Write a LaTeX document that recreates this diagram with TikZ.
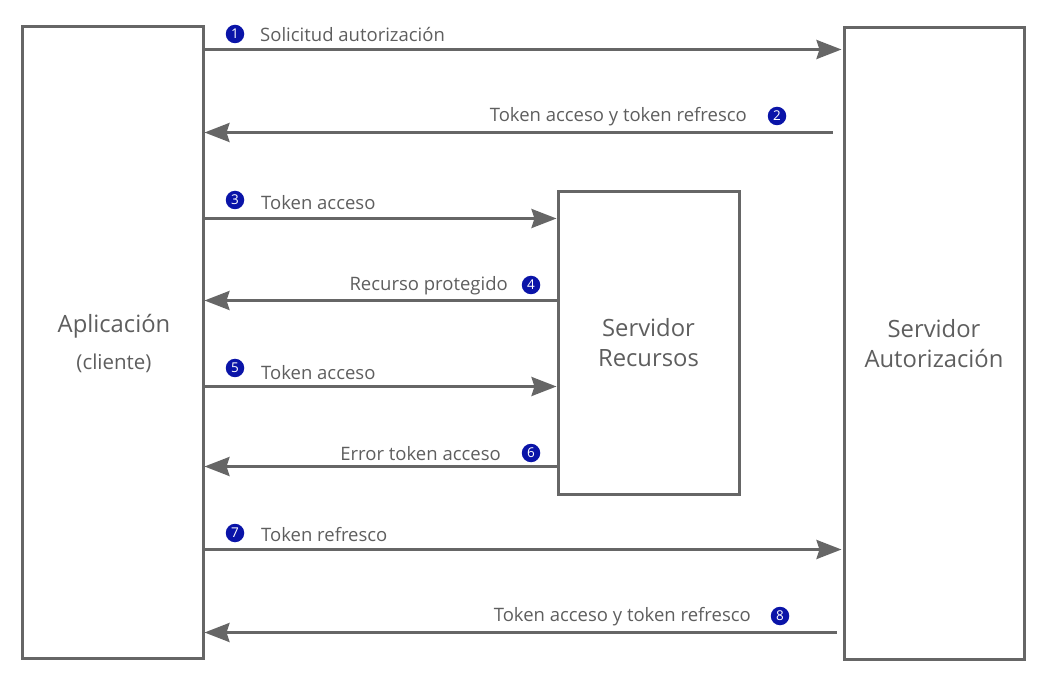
\documentclass[tikz,border=0pt]{standalone}
\usepackage{fontspec}
\setmainfont{Open Sans}
\usetikzlibrary{arrows.meta}
\definecolor{ln}{HTML}{666666}
\definecolor{tx}{HTML}{5E5E5E}
\definecolor{bl}{HTML}{0A14A8}
\tikzset{
  box/.style={draw=ln, line width=3pt, inner sep=0pt, text=tx, align=center, font=\fontsize{23.8}{30}\selectfont},
  arr/.style={draw=ln, line width=3pt, -{Stealth[length=25pt, width=19pt, inset=3pt]}},
  lbl/.style={text=tx, font=\fontsize{18.5}{22}\selectfont, inner sep=0pt, yshift=-2pt},
  num/.style={circle, fill=bl, text=white, minimum size=18.5pt, inner sep=0pt, font=\fontsize{13.5}{13.5}\selectfont, yshift=-1pt}
}
\begin{document}
\begin{tikzpicture}[x=1pt,y=-1pt]
\useasboundingbox (0,0) rectangle (1047,684);
\node[box, minimum width=181pt, minimum height=631pt] (app) at (112.5,342.5) {};
\node[text=tx, font=\fontsize{23.8}{28}\selectfont] (appt) at (114,326) {Aplicación};
\node[text=tx, font=\fontsize{20.5}{24}\selectfont] (appc) at (114,363) {(cliente)};
\node[box, minimum width=180pt, minimum height=631pt] (auth) at (934,343.5) {Servidor\\Autorización};
\node[box, minimum width=181pt, minimum height=302pt] (res) at (648.5,343) {Servidor\\Recursos};

% 1
\draw[arr] (app.east |- 0,49.5) -- ([xshift=-1pt]auth.west |- 0,49.5);
\node[num] (n1) at (235,33) {1};
\node[lbl, anchor=west] (l1) at (260,33) {Solicitud autorización};
% 2
\draw[arr] ([xshift=-10pt]auth.west |- 0,132.5) -- (app.east |- 0,132.5);
\node[num] (n2) at (777,115) {2};
\node[lbl, anchor=east] (l2) at (747,115) {Token acceso y token refresco};
% 3
\draw[arr] (app.east |- 0,218.5) -- (res.west |- 0,218.5);
\node[num] (n3) at (235,199) {3};
\node[lbl, anchor=west] (l3) at (261,201) {Token acceso};
% 4
\draw[arr] (res.west |- 0,300.5) -- (app.east |- 0,300.5);
\node[num] (n4) at (531,284) {4};
\node[lbl, anchor=east] (l4) at (508,284) {Recurso protegido};
% 5
\draw[arr] (app.east |- 0,386.5) -- (res.west |- 0,386.5);
\node[num] (n5) at (235,367) {5};
\node[lbl, anchor=west] (l5) at (261,371) {Token acceso};
% 6
\draw[arr] (res.west |- 0,466.5) -- (app.east |- 0,466.5);
\node[num] (n6) at (531,452) {6};
\node[lbl, anchor=east] (l6) at (501,452) {Error token acceso};
% 7
\draw[arr] (app.east |- 0,549.5) -- ([xshift=-1pt]auth.west |- 0,549.5);
\node[num] (n7) at (235,532) {7};
\node[lbl, anchor=west] (l7) at (261,533) {Token refresco};
% 8
\draw[arr] ([xshift=-6pt]auth.west |- 0,632.5) -- (app.east |- 0,632.5);
\node[num] (n8) at (780,615) {8};
\node[lbl, anchor=east] (l8) at (751,615) {Token acceso y token refresco};
\end{tikzpicture}
\end{document}
